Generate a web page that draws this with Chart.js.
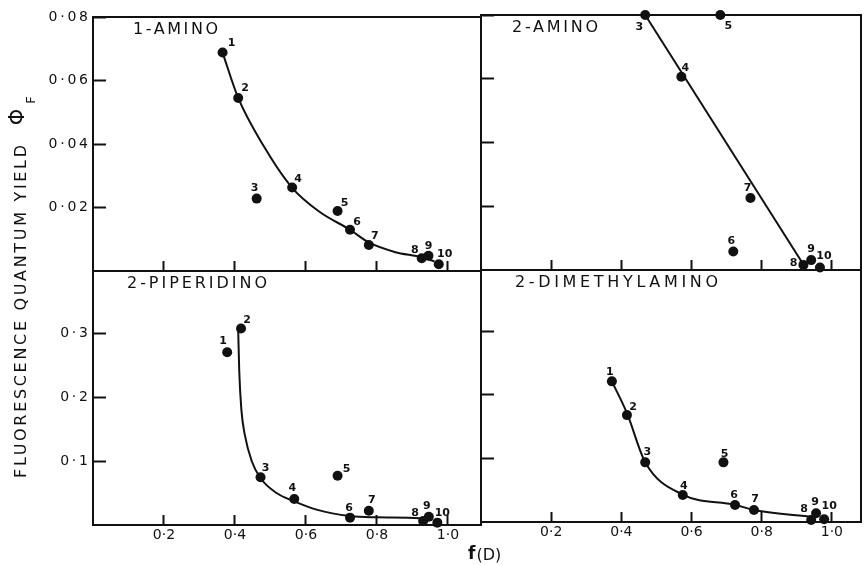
<!DOCTYPE html>
<html>
<head>
<meta charset="utf-8">
<title>Fluorescence quantum yield vs f(D)</title>
<script src="https://cdn.jsdelivr.net/npm/chart.js@4.4.1/dist/chart.umd.min.js"></script>
<style>
  body { margin: 0; background: #fff; }
  #figure { position: relative; width: 866px; height: 565px; }
  #figure canvas { position: absolute; left: 0; top: 0; }
</style>
</head>
<body>
<div id="figure">
  <canvas id="amino1" width="866" height="565"></canvas>
  <canvas id="amino2" width="866" height="565"></canvas>
  <canvas id="piperidino" width="866" height="565"></canvas>
  <canvas id="dimethylamino" width="866" height="565"></canvas>
</div>
<script>
// Tick values and labels
const xTickValues = [0.2, 0.4, 0.6, 0.8, 1.0];
const xTickLabels = ['0·2', '0·4', '0·6', '0·8', '1·0'];
const topYTickValues = [0.02, 0.04, 0.06, 0.08];
const topYTickLabels = ['0·02', '0·04', '0·06', '0·08'];
const bottomYTickValues = [0.1, 0.2, 0.3];
const bottomYTickLabels = ['0·1', '0·2', '0·3'];

// 1-AMINO
const amino1Ids = ['1', '2', '3', '4', '5', '6', '7', '8', '9', '10'];
const amino1X = [0.365, 0.409, 0.461, 0.561, 0.689, 0.724, 0.777, 0.926, 0.945, 0.974];
const amino1Y = [0.0688, 0.0545, 0.0228, 0.0263, 0.0189, 0.0130, 0.0082, 0.0040, 0.0048, 0.0021];
const amino1CurveX = [0.365, 0.409, 0.480, 0.561, 0.640, 0.724, 0.777, 0.850, 0.926, 0.962];
const amino1CurveY = [0.0688, 0.0545, 0.0395, 0.0262, 0.0185, 0.0130, 0.0090, 0.0060, 0.0043, 0.0030];

// 2-AMINO
const amino2Ids = ['3', '4', '5', '6', '7', '8', '9', '10'];
const amino2X = [0.468, 0.571, 0.682, 0.719, 0.768, 0.919, 0.941, 0.966];
const amino2Y = [0.0800, 0.0606, 0.0800, 0.0058, 0.0226, 0.0016, 0.0031, 0.0008];
const amino2LineX = [0.468, 0.922];
const amino2LineY = [0.0800, 0.0012];

// 2-PIPERIDINO
const piperidinoIds = ['1', '2', '3', '4', '5', '6', '7', '8', '9', '10'];
const piperidinoX = [0.378, 0.417, 0.472, 0.567, 0.689, 0.724, 0.777, 0.930, 0.946, 0.970];
const piperidinoY = [0.270, 0.307, 0.0745, 0.0406, 0.077, 0.0115, 0.0224, 0.0062, 0.0130, 0.0037];
const piperidinoCurveX = [0.409, 0.412, 0.418, 0.428, 0.447, 0.472, 0.517, 0.567, 0.630, 0.724, 0.800, 0.921, 0.948];
const piperidinoCurveY = [0.305, 0.240, 0.180, 0.140, 0.100, 0.073, 0.050, 0.037, 0.024, 0.014, 0.012, 0.0104, 0.008];

// 2-DIMETHYLAMINO
const dimethylIds = ['1', '2', '3', '4', '5', '6', '7', '8', '9', '10'];
const dimethylX = [0.373, 0.416, 0.468, 0.575, 0.691, 0.724, 0.778, 0.941, 0.955, 0.978];
const dimethylY = [0.221, 0.168, 0.0937, 0.0424, 0.0937, 0.0267, 0.0188, 0.0031, 0.0137, 0.0042];
const dimethylCurveX = [0.373, 0.416, 0.468, 0.575, 0.724, 0.778, 0.945];
const dimethylCurveY = [0.221, 0.171, 0.094, 0.043, 0.027, 0.019, 0.008];

const W = 866, H = 565;
const INK = '#111';
const FONT = '"DejaVu Sans", sans-serif';

// where each number sits relative to its dot (px)
const amino1LabelOffsets = [[9, -9], [7, -10], [-2, -10], [6, -8], [7, -8], [7, -8], [6, -9], [-7, -8], [0, -10], [6, -10]];
const amino2LabelOffsets = [[-6, 12], [4, -9], [8, 11], [-2, -10], [-3, -10], [-10, -2], [0, -11], [4, -11]];
const piperidinoLabelOffsets = [[-4, -11], [6, -8], [5, -9], [-2, -11], [9, -7], [-1, -10], [3, -11], [-8, -8], [-2, -11], [5, -9]];
const dimethylLabelOffsets = [[-2, -9], [6, -8], [2, -10], [1, -9], [1, -8], [-1, -10], [1, -11], [-7, -11], [-1, -11], [5, -13]];

function spacedText(ctx, text, x, y, width) {
    ctx.letterSpacing = '0px';
    const w = ctx.measureText(text).width;
    const n = [...text].length;
    const s = n > 1 ? Math.max((width - w) / (n - 1), 0) : 0;
    ctx.letterSpacing = s + 'px';
    ctx.fillText(text, x, y);
    ctx.letterSpacing = '0px';
}

// frame, panel title and point numbers for one panel
function panelDecor(title, titleBox, ids, offsets) {
    return {
        id: 'panelDecor',
        afterDatasetsDraw(chart) {
            const ctx = chart.ctx;
            const a = chart.chartArea;
            ctx.save();
            ctx.strokeStyle = INK;
            ctx.lineWidth = 2;
            ctx.strokeRect(a.left, a.top, a.right - a.left, a.bottom - a.top);

            ctx.fillStyle = INK;
            ctx.textBaseline = 'middle';
            ctx.textAlign = 'left';
            ctx.font = '16px ' + FONT;
            spacedText(ctx, title, titleBox[0], titleBox[1], titleBox[2]);

            ctx.font = '600 11px ' + FONT;
            ctx.textAlign = 'center';
            chart.getDatasetMeta(1).data.forEach((el, i) => {
                const off = offsets[i] || [6, -9];
                ctx.fillText(ids[i], el.x + off[0], el.y + off[1]);
            });
            ctx.restore();
        }
    };
}

// axis titles shared by the whole figure
const figureText = {
    id: 'figureText',
    afterDraw(chart) {
        const ctx = chart.ctx;
        ctx.save();
        ctx.fillStyle = INK;
        ctx.textBaseline = 'middle';

        ctx.save();
        ctx.translate(22, 478);
        ctx.rotate(-Math.PI / 2);
        ctx.textAlign = 'left';
        ctx.font = '16px ' + FONT;
        spacedText(ctx, 'FLUORESCENCE QUANTUM YIELD', 0, 0, 333);
        ctx.restore();

        ctx.save();
        ctx.translate(19, 117);
        ctx.rotate(-Math.PI / 2);
        ctx.textAlign = 'center';
        ctx.font = '21px ' + FONT;
        ctx.fillText('Φ', 0, 0);
        ctx.restore();

        ctx.save();
        ctx.translate(32, 100);
        ctx.rotate(-Math.PI / 2);
        ctx.textAlign = 'center';
        ctx.font = '13px ' + FONT;
        ctx.fillText('F', 0, 0);
        ctx.restore();

        ctx.textAlign = 'left';
        ctx.font = 'bold 17px ' + FONT;
        ctx.fillText('f', 468, 555);
        const fw = ctx.measureText('f').width;
        ctx.font = '16px ' + FONT;
        ctx.fillText('(D)', 468 + fw + 1, 556);
        ctx.restore();
    }
};

function makePanel(id, p) {
    const box = p.box;
    const points = p.x.map((x, i) => ({ x: x, y: p.y[i] }));
    const curve = p.curveX.map((x, i) => ({ x: x, y: p.curveY[i] }));
    const plugins = [panelDecor(p.title, p.titleBox, p.ids, p.offsets)];
    if (p.figureText) plugins.push(figureText);

    return new Chart(document.getElementById(id), {
        type: 'scatter',
        data: {
            datasets: [{
                data: curve,
                showLine: true,
                borderColor: INK,
                borderWidth: 2,
                pointRadius: 0,
                cubicInterpolationMode: p.straight ? 'default' : 'monotone',
                tension: 0,
                clip: false
            }, {
                data: points,
                pointRadius: 5,
                pointHoverRadius: 5,
                backgroundColor: INK,
                borderWidth: 0,
                clip: false
            }]
        },
        plugins: plugins,
        options: {
            responsive: false,
            animation: false,
            devicePixelRatio: 1,
            layout: { padding: { left: 0, top: box.top, right: W - box.right, bottom: 0 } },
            plugins: { legend: { display: false }, tooltip: { enabled: false } },
            scales: {
                x: {
                    type: 'linear',
                    min: 0,
                    max: p.xMax,
                    afterBuildTicks: s => { s.ticks = xTickValues.map(v => ({ value: v })); },
                    afterFit: s => { s.height = H - box.bottom; s.paddingLeft = 0; s.paddingRight = 0; },
                    border: { display: false },
                    grid: { drawOnChartArea: false, tickLength: -10, tickWidth: 2, tickColor: INK },
                    ticks: {
                        display: p.showX,
                        autoSkip: false,
                        maxRotation: 0,
                        padding: 12,
                        color: INK,
                        font: { family: FONT, size: 14 },
                        callback: (v, i) => xTickLabels[i]
                    }
                },
                y: {
                    type: 'linear',
                    min: 0,
                    max: p.yMax,
                    afterBuildTicks: s => { s.ticks = p.yTicks.map(v => ({ value: v })); },
                    afterFit: s => { s.width = box.left; s.paddingTop = 0; s.paddingBottom = 0; },
                    border: { display: false },
                    grid: { drawOnChartArea: false, tickLength: -13, tickWidth: 2, tickColor: INK },
                    ticks: {
                        display: p.showY,
                        autoSkip: false,
                        padding: 18,
                        color: INK,
                        font: { family: FONT, size: 14 },
                        // thin spaces widen the scanned-looking labels
                        callback: (v, i) => p.yLabels[i].split('').join('\u2009')
                    }
                }
            }
        }
    });
}

makePanel('amino1', {
    box: { left: 93, top: 17, right: 481, bottom: 271 },
    xMax: 1.093, yMax: 0.08,
    yTicks: topYTickValues, yLabels: topYTickLabels,
    showX: false, showY: true,
    x: amino1X, y: amino1Y, curveX: amino1CurveX, curveY: amino1CurveY,
    ids: amino1Ids, offsets: amino1LabelOffsets,
    title: '1-AMINO', titleBox: [133, 30, 85],
    figureText: true
});

makePanel('amino2', {
    box: { left: 481, top: 15, right: 865, bottom: 270 },
    xMax: 1.083, yMax: 0.08,
    yTicks: topYTickValues, yLabels: topYTickLabels,
    showX: false, showY: false,
    x: amino2X, y: amino2Y, curveX: amino2LineX, curveY: amino2LineY,
    ids: amino2Ids, offsets: amino2LabelOffsets, straight: true,
    title: '2-AMINO', titleBox: [512, 28, 86]
});

makePanel('piperidino', {
    box: { left: 93, top: 271, right: 481, bottom: 525 },
    xMax: 1.093, yMax: 0.397,
    yTicks: bottomYTickValues, yLabels: bottomYTickLabels,
    showX: true, showY: true,
    x: piperidinoX, y: piperidinoY, curveX: piperidinoCurveX, curveY: piperidinoCurveY,
    ids: piperidinoIds, offsets: piperidinoLabelOffsets,
    title: '2-PIPERIDINO', titleBox: [127, 284, 140]
});

makePanel('dimethylamino', {
    box: { left: 481, top: 270, right: 865, bottom: 522 },
    xMax: 1.083, yMax: 0.396,
    yTicks: bottomYTickValues, yLabels: bottomYTickLabels,
    showX: true, showY: false,
    x: dimethylX, y: dimethylY, curveX: dimethylCurveX, curveY: dimethylCurveY,
    ids: dimethylIds, offsets: dimethylLabelOffsets,
    title: '2-DIMETHYLAMINO', titleBox: [515, 283, 203]
});
</script>
</body>
</html>
